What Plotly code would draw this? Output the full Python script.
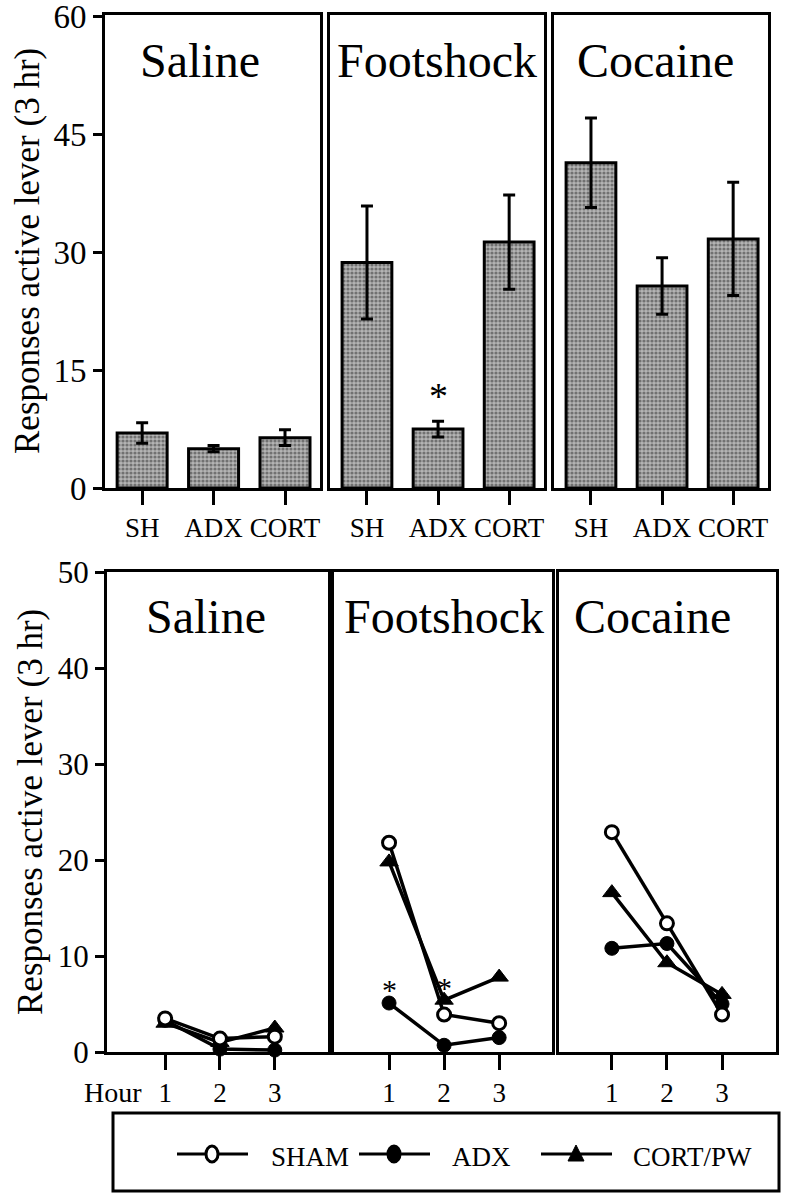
import plotly.graph_objects as go

W, H = 786, 1199
FONT = "Liberation Serif"

# ---------------------------------------------
# data: total responses on active lever (3 hr)
# ---------------------------------------------
groups = ["SH", "ADX", "CORT"]
conditions = ["Saline", "Footshock", "Cocaine"]

saline_mean = [7.0, 5.0, 6.4]
saline_sem = [1.3, 0.4, 1.0]
footshock_mean = [28.7, 7.5, 31.3]
footshock_sem = [7.2, 1.0, 6.0]
cocaine_mean = [41.4, 25.7, 31.7]
cocaine_sem = [5.7, 3.6, 7.2]

# ---------------------------------------------
# data: responses per hour
# ---------------------------------------------
hours = [1, 2, 3]
series_names = ["SHAM", "ADX", "CORT/PW"]

saline_sham = [3.5, 1.4, 1.6]
saline_adx = [3.3, 0.3, 0.2]
saline_cort = [3.0, 1.0, 2.5]

footshock_sham = [21.8, 3.9, 3.0]
footshock_adx = [5.1, 0.7, 1.5]
footshock_cort = [19.8, 5.4, 7.8]

cocaine_sham = [22.9, 13.4, 3.9]
cocaine_adx = [10.8, 11.3, 5.0]
cocaine_cort = [16.6, 9.3, 6.0]

# significance marks
top_sig = [("Footshock", "ADX")]
bottom_sig_hours = [1, 2]
bottom_sig_y = [7.0, 7.2]


def px(x):
    return x / W


def py(y):
    return 1 - y / H


fig = go.Figure()

# -----------------------------
# panel geometry (page pixels)
# -----------------------------
top_x = [(105, 320), (330, 544), (554, 768)]
top_y = (15, 488)
bot_x = [(107, 328), (334, 552), (559, 776)]
bot_y = (572, 1052)
bot_ranges = [[-0.06, 3.97], [0.0, 3.96], [0.04, 3.98]]

axis_common = dict(
    showline=True,
    linecolor="black",
    linewidth=3,
    mirror=True,
    showgrid=False,
    zeroline=False,
    tickcolor="black",
    tickwidth=3,
    automargin=False,
    ticklabeloverflow="allow",
)

means = [saline_mean, footshock_mean, cocaine_mean]
sems = [saline_sem, footshock_sem, cocaine_sem]

for i in range(3):
    n = i + 1
    xa = "x" if n == 1 else f"x{n}"
    ya = "y" if n == 1 else f"y{n}"
    fig.add_trace(
        go.Bar(
            x=groups,
            y=means[i],
            width=0.7,
            marker=dict(
                color="#8c8c8c",
                line=dict(color="black", width=3),
                pattern=dict(shape=".", fgcolor="#2e2e2e", bgcolor="#b4b4b4", size=4, solidity=0.5),
            ),
            error_y=dict(type="data", array=sems[i], color="black", thickness=3, width=6),
            xaxis=xa,
            yaxis=ya,
            showlegend=False,
        )
    )
    fig.layout[f"xaxis{'' if n == 1 else n}"] = dict(
        axis_common,
        domain=[px(top_x[i][0]), px(top_x[i][1])],
        anchor=ya,
        type="category",
        range=[-0.52, 2.49],
        ticks="outside",
        ticklen=14,
        tickfont=dict(family=FONT, size=27, color="black"),
    )
    fig.layout[f"yaxis{'' if n == 1 else n}"] = dict(
        axis_common,
        domain=[py(top_y[1]), py(top_y[0])],
        anchor=xa,
        range=[0, 60.2],
        tickvals=[0, 15, 30, 45, 60],
        ticks="outside" if n == 1 else "",
        ticklen=9,
        showticklabels=(n == 1),
        tickfont=dict(family=FONT, size=33, color="black"),
    )

lines = [
    [saline_adx, saline_cort, saline_sham],
    [footshock_adx, footshock_cort, footshock_sham],
    [cocaine_adx, cocaine_cort, cocaine_sham],
]
order_names = ["ADX", "CORT/PW", "SHAM"]
marker_style = {
    "SHAM": dict(symbol="circle", size=13, color="white", line=dict(color="black", width=3)),
    "ADX": dict(symbol="circle", size=14, color="black", line=dict(color="black", width=1)),
    "CORT/PW": dict(symbol="triangle-up", size=16, color="black", line=dict(color="black", width=1)),
}

for i in range(3):
    n = i + 4
    xa, ya = f"x{n}", f"y{n}"
    for name, vals in zip(order_names, lines[i]):
        fig.add_trace(
            go.Scatter(
                x=hours,
                y=vals,
                mode="lines+markers",
                name=name,
                line=dict(color="black", width=3.5),
                marker=marker_style[name],
                cliponaxis=False,
                xaxis=xa,
                yaxis=ya,
                showlegend=False,
            )
        )
    fig.layout[f"xaxis{n}"] = dict(
        axis_common,
        domain=[px(bot_x[i][0]), px(bot_x[i][1])],
        anchor=ya,
        range=bot_ranges[i],
        tickvals=hours,
        ticks="outside",
        ticklen=15,
        tickfont=dict(family=FONT, size=27, color="black"),
    )
    fig.layout[f"yaxis{n}"] = dict(
        axis_common,
        domain=[py(bot_y[1]), py(bot_y[0])],
        anchor=xa,
        range=[0, 50],
        tickvals=[0, 10, 20, 30, 40, 50],
        ticks="outside" if i == 0 else "",
        ticklen=9,
        showticklabels=(i == 0),
        tickfont=dict(family=FONT, size=31, color="black"),
    )


# -----------------------------
# text annotations
# -----------------------------
def label(x, y, text, size, xanchor="center", angle=0):
    fig.add_annotation(
        x=px(x), y=py(y), xref="paper", yref="paper",
        text=text, showarrow=False,
        xanchor=xanchor, yanchor="middle", textangle=angle,
        font=dict(family=FONT, size=size, color="black"),
    )


for cx, cond in zip([200, 437, 655], conditions):
    label(cx, 60, cond, 48)
for cx, cond in zip([206, 444, 652], conditions):
    label(cx, 616, cond, 48)

ytitle = "Responses active lever (3 hr)"
label(27, 251, ytitle, 35, angle=-90)
label(30, 812, ytitle, 35, angle=-90)
label(144, 1092, "Hour", 28, xanchor="right")

# significance asterisks
for cond, grp in top_sig:
    k = conditions.index(cond)
    j = groups.index(grp)
    n = k + 1
    fig.add_annotation(
        x=grp,
        y=means[k][j] + sems[k][j] + 4.0,
        xref="x" if n == 1 else f"x{n}",
        yref="y" if n == 1 else f"y{n}",
        text="*",
        showarrow=False,
        xanchor="center",
        yanchor="middle",
        yshift=-6,
        font=dict(family=FONT, size=38, color="black"),
    )
for hx, hy in zip(bottom_sig_hours, bottom_sig_y):
    fig.add_annotation(
        x=hx,
        y=hy,
        xref="x5",
        yref="y5",
        text="*",
        showarrow=False,
        xanchor="center",
        yanchor="middle",
        yshift=-5,
        font=dict(family=FONT, size=30, color="black"),
    )

# -----------------------------
# hand-drawn legend box
# -----------------------------
shapes = [
    dict(type="rect", xref="paper", yref="paper",
         x0=px(113), x1=px(779), y0=py(1191), y1=py(1113),
         line=dict(color="black", width=3)),
]
legend_line_start = [177, 359, 541]
legend_text_start = [269, 450, 631]
ly = 1154
for name, lx, tx in zip(series_names, legend_line_start, legend_text_start):
    cx = lx + 35
    shapes.append(dict(type="line", xref="paper", yref="paper",
                       x0=px(lx), x1=px(lx + 71), y0=py(ly), y1=py(ly),
                       line=dict(color="black", width=3)))
    if name == "CORT/PW":
        path = f"M{px(cx - 8)},{py(ly + 7)} L{px(cx + 8)},{py(ly + 7)} L{px(cx)},{py(ly - 9)} Z"
        shapes.append(dict(type="path", xref="paper", yref="paper", path=path,
                           fillcolor="black", line=dict(color="black", width=1)))
    else:
        shapes.append(dict(type="circle", xref="paper", yref="paper",
                           x0=px(cx - 6), x1=px(cx + 6), y0=py(ly + 8), y1=py(ly - 8),
                           fillcolor="white" if name == "SHAM" else "black",
                           line=dict(color="black", width=3)))
    label(tx, ly + 3, name, 27, xanchor="left")

fig.update_layout(
    width=W,
    height=H,
    margin=dict(l=0, r=0, t=0, b=0, autoexpand=False),
    paper_bgcolor="white",
    plot_bgcolor="white",
    shapes=shapes,
    showlegend=False,
    bargap=0.3,
)

# drop the browser's default 8px body margin so the figure fills the window
fig.write_html(
    "out.html",
    config={"displayModeBar": False},
    post_script="document.body.style.margin='0px';",
)
